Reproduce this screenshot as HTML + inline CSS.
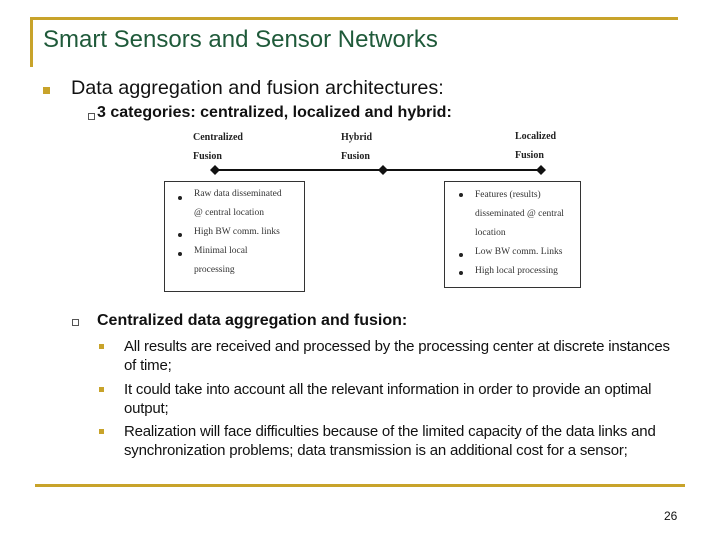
<!DOCTYPE html>
<html><head><style>
body{margin:0;width:720px;height:540px;background:#fff;position:relative;font-family:"Liberation Sans",sans-serif;overflow:hidden}
.a{position:absolute;white-space:nowrap}
.s{font-family:"Liberation Serif",serif;font-size:9.5px;color:#333}
.b{font-family:"Liberation Serif",serif;font-size:10px;font-weight:bold;color:#222}
.d{position:absolute;width:4px;height:4px;background:#222;border-radius:50%}
.t{font-size:15px;line-height:19px;color:#111;white-space:normal;width:548px;letter-spacing:-0.2px}
</style></head><body>
<div class="a" style="left:30px;top:17px;width:648px;height:3px;background:#c8a32a"></div>
<div class="a" style="left:30px;top:17px;width:3px;height:50px;background:#c8a32a"></div>
<div class="a" style="left:35px;top:484px;width:650px;height:3px;background:#c8a32a"></div>
<div class="a" style="left:43px;top:26px;font-size:24px;color:#1f5a3a">Smart Sensors and Sensor Networks</div>
<div class="a" style="left:43px;top:87px;width:7px;height:7px;background:#c8a32a"></div>
<div class="a" style="left:71px;top:77px;font-size:19.8px;color:#111">Data aggregation and fusion architectures:</div>
<div class="a" style="left:88px;top:113px;width:5px;height:5px;border:1px solid #555"></div>
<div class="a" style="left:97px;top:104px;font-size:16px;font-weight:bold;color:#111">3 categories: centralized, localized and hybrid:</div>
<div class="a" style="left:72px;top:319px;width:5px;height:5px;border:1px solid #555"></div>
<div class="a" style="left:97px;top:312px;font-size:16px;font-weight:bold;color:#111">Centralized data aggregation and fusion:</div>
<div class="a" style="left:99px;top:344px;width:5px;height:5px;background:#c8a32a"></div>
<div class="a" style="left:99px;top:387px;width:5px;height:5px;background:#c8a32a"></div>
<div class="a" style="left:99px;top:429px;width:5px;height:5px;background:#c8a32a"></div>
<div class="a t" style="left:124px;top:337px">All results are received and processed by the processing center at discrete instances of time;</div>
<div class="a t" style="left:124px;top:380px">It could take into account all the relevant information in order to provide an optimal output;</div>
<div class="a t" style="left:124px;top:422px;width:560px">Realization will face difficulties because of the limited capacity of the data links and synchronization problems; data transmission is an additional cost for a sensor;</div>
<div class="a" style="left:664px;top:509px;font-size:12px;color:#111">26</div>
<svg class="a" style="left:0;top:0" width="720" height="540">
<line x1="215" y1="170" x2="542" y2="170" stroke="#111" stroke-width="2"/>
<polygon points="215,165 220,170 215,175 210,170" fill="#111"/>
<polygon points="383,165 388,170 383,175 378,170" fill="#111"/>
<polygon points="541,165 546,170 541,175 536,170" fill="#111"/>
<rect x="164.5" y="181.5" width="140" height="110" fill="none" stroke="#333"/>
<rect x="444.5" y="181.5" width="136" height="106" fill="none" stroke="#333"/>
</svg>
<div class="a b" style="left:193px;top:132px">Centralized</div>
<div class="a b" style="left:193px;top:151px">Fusion</div>
<div class="a b" style="left:341px;top:132px">Hybrid</div>
<div class="a b" style="left:341px;top:151px">Fusion</div>
<div class="a b" style="left:515px;top:131px">Localized</div>
<div class="a b" style="left:515px;top:150px">Fusion</div>
<div class="d" style="left:178px;top:196px"></div>
<div class="d" style="left:178px;top:233px"></div>
<div class="d" style="left:178px;top:252px"></div>
<div class="a s" style="left:194px;top:189px">Raw data disseminated</div>
<div class="a s" style="left:194px;top:208px">@ central location</div>
<div class="a s" style="left:194px;top:227px">High BW comm. links</div>
<div class="a s" style="left:194px;top:246px">Minimal local</div>
<div class="a s" style="left:194px;top:265px">processing</div>
<div class="d" style="left:459px;top:193px"></div>
<div class="d" style="left:459px;top:253px"></div>
<div class="d" style="left:459px;top:271px"></div>
<div class="a s" style="left:475px;top:190px">Features (results)</div>
<div class="a s" style="left:475px;top:209px">disseminated @ central</div>
<div class="a s" style="left:475px;top:228px">location</div>
<div class="a s" style="left:475px;top:247px">Low BW comm. Links</div>
<div class="a s" style="left:475px;top:266px">High local processing</div>
</body></html>
